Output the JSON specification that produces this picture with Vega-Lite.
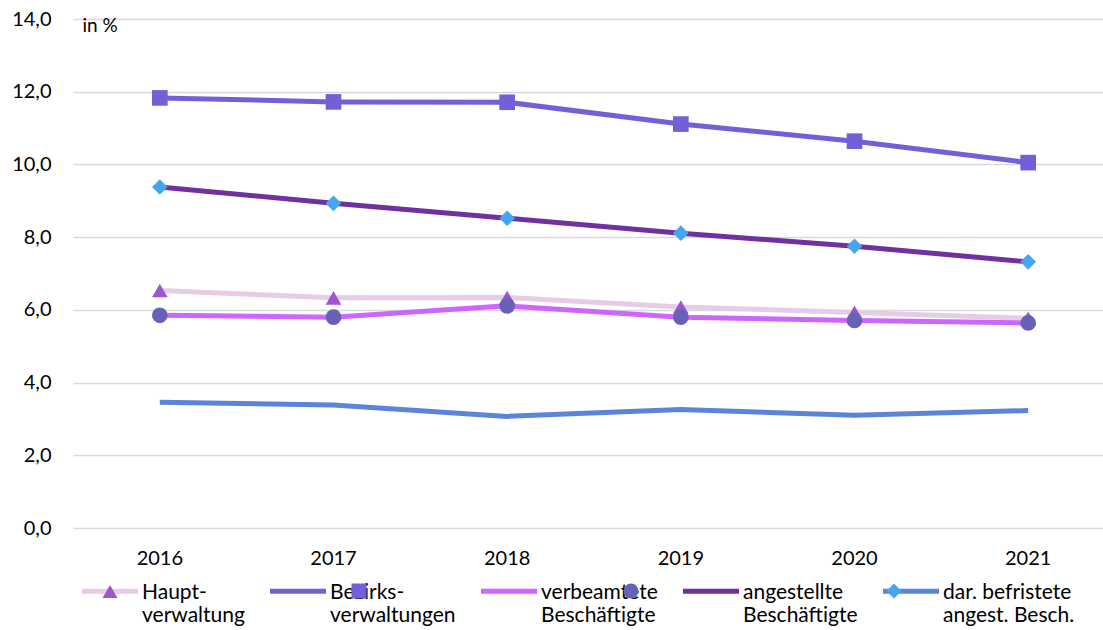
{
  "$schema": "https://vega.github.io/schema/vega-lite/v6.json",
  "width": 1042,
  "height": 509,
  "autosize": {"type": "none"},
  "padding": {"left": 73, "top": 19, "right": 0, "bottom": 102},
  "background": "white",
  "config": {
    "view": {"stroke": null},
    "font": "Lato",
    "axis": {"labelFont": "Lato", "labelColor": "#000000", "titleFont": "Lato", "titleColor": "#000000", "labelFontWeight": "normal"},
    "legend": {"labelFont": "Lato", "labelColor": "#000000"}
  },
  "data": {
    "values": [
      {"year": "2016", "series": "Haupt-\nverwaltung", "value": 6.53},
      {"year": "2017", "series": "Haupt-\nverwaltung", "value": 6.33},
      {"year": "2018", "series": "Haupt-\nverwaltung", "value": 6.34},
      {"year": "2019", "series": "Haupt-\nverwaltung", "value": 6.08},
      {"year": "2020", "series": "Haupt-\nverwaltung", "value": 5.93},
      {"year": "2021", "series": "Haupt-\nverwaltung", "value": 5.77},
      {"year": "2016", "series": "Bezirks-\nverwaltungen", "value": 11.83},
      {"year": "2017", "series": "Bezirks-\nverwaltungen", "value": 11.72},
      {"year": "2018", "series": "Bezirks-\nverwaltungen", "value": 11.71},
      {"year": "2019", "series": "Bezirks-\nverwaltungen", "value": 11.11},
      {"year": "2020", "series": "Bezirks-\nverwaltungen", "value": 10.64},
      {"year": "2021", "series": "Bezirks-\nverwaltungen", "value": 10.05},
      {"year": "2016", "series": "verbeamtete\nBeschäftigte", "value": 5.85},
      {"year": "2017", "series": "verbeamtete\nBeschäftigte", "value": 5.80},
      {"year": "2018", "series": "verbeamtete\nBeschäftigte", "value": 6.11},
      {"year": "2019", "series": "verbeamtete\nBeschäftigte", "value": 5.80},
      {"year": "2020", "series": "verbeamtete\nBeschäftigte", "value": 5.71},
      {"year": "2021", "series": "verbeamtete\nBeschäftigte", "value": 5.64},
      {"year": "2016", "series": "angestellte\nBeschäftigte", "value": 9.38},
      {"year": "2017", "series": "angestellte\nBeschäftigte", "value": 8.93},
      {"year": "2018", "series": "angestellte\nBeschäftigte", "value": 8.52},
      {"year": "2019", "series": "angestellte\nBeschäftigte", "value": 8.11},
      {"year": "2020", "series": "angestellte\nBeschäftigte", "value": 7.75},
      {"year": "2021", "series": "angestellte\nBeschäftigte", "value": 7.32},
      {"year": "2016", "series": "dar. befristete\nangest. Besch.", "value": 3.46},
      {"year": "2017", "series": "dar. befristete\nangest. Besch.", "value": 3.38},
      {"year": "2018", "series": "dar. befristete\nangest. Besch.", "value": 3.07},
      {"year": "2019", "series": "dar. befristete\nangest. Besch.", "value": 3.26},
      {"year": "2020", "series": "dar. befristete\nangest. Besch.", "value": 3.10},
      {"year": "2021", "series": "dar. befristete\nangest. Besch.", "value": 3.23}
    ]
  },
  "encoding": {
    "x": {
      "field": "year", "type": "ordinal",
      "scale": {"type": "band", "paddingInner": 0, "paddingOuter": 0},
      "axis": {"title": null, "labelAngle": 0, "labelFontSize": 20, "labelPadding": 20, "ticks": false, "domain": false, "grid": false}
    },
    "y": {
      "field": "value", "type": "quantitative",
      "scale": {"domain": [0, 14], "nice": false, "zero": true},
      "axis": {
        "values": [0, 2, 4, 6, 8, 10, 12, 14],
        "labelExpr": "replace(format(datum.value, '.1f'), '.', ',')",
        "labelFontSize": 20, "labelPadding": 22,
        "ticks": false, "domain": false,
        "grid": true, "gridColor": "#D9D9D9", "gridWidth": 1.5,
        "title": "in %", "titleAngle": 0, "titleAlign": "left", "titleBaseline": "middle",
        "titleX": 9, "titleY": 6, "titleFontSize": 19, "titleFontWeight": "normal"
      }
    }
  },
  "layer": [
    {
      "mark": {"type": "line", "strokeWidth": 5},
      "encoding": {
        "color": {
          "field": "series", "type": "nominal",
          "scale": {
            "domain": ["Haupt-\nverwaltung", "Bezirks-\nverwaltungen", "verbeamtete\nBeschäftigte", "angestellte\nBeschäftigte", "dar. befristete\nangest. Besch."],
            "range": ["#E6CCE6", "#7360D8", "#CC66FF", "#7030A0", "#5B84DB"]
          },
          "legend": {
            "title": null, "orient": "none", "direction": "horizontal", "columns": 5,
            "legendX": 6.5, "legendY": 541.5, "padding": 0,
            "symbolType": "stroke", "symbolSize": 3136, "symbolStrokeWidth": 5,
            "labelFontSize": 21, "labelOffset": 1.5, "columnPadding": 14, "labelLimit": 300,
            "labelExpr": "split(datum.label, '\\n')",
            "labelBaseline": "alphabetic",
            "encode": {"labels": {"update": {"dy": {"value": 8}, "lineHeight": {"value": 23}}}}
          }
        }
      }
    },
    {
      "mark": {"type": "point", "filled": true, "opacity": 1, "size": 245},
      "encoding": {
        "shape": {
          "field": "series", "type": "nominal",
          "scale": {
            "domain": ["Haupt-\nverwaltung", "Bezirks-\nverwaltungen", "verbeamtete\nBeschäftigte", "angestellte\nBeschäftigte", "dar. befristete\nangest. Besch.", "_"],
            "range": ["triangle-up", "square", "circle", "diamond", "circle", "circle"]
          },
          "legend": {
            "title": null, "orient": "none", "direction": "horizontal", "columns": 5,
            "legendX": 6.5, "legendY": 541.5, "padding": 0,
            "values": ["Haupt-\nverwaltung", "Bezirks-\nverwaltungen", "verbeamtete\nBeschäftigte", "angestellte\nBeschäftigte", "dar. befristete\nangest. Besch."],
            "symbolSize": 225, "symbolStrokeWidth": 46, "symbolOpacity": 1,
            "labelFontSize": 21, "labelOffset": 1.5, "columnPadding": 14, "labelLimit": 300,
            "labelExpr": "split(datum.label, '\\n')",
            "labelBaseline": "alphabetic", "labelOpacity": 0,
            "encode": {
              "symbols": {"update": {
                "size": {"value": 225},
                "stroke": {"value": null},
                "strokeOpacity": {"value": 0},
                "strokeWidth": {"value": 46},
                "opacity": {"value": 1}
              }},
              "labels": {"update": {"dy": {"value": 8}, "lineHeight": {"value": 23}}}
            }
          }
        },
        "fill": {
          "field": "series", "type": "nominal",
          "scale": {
            "domain": ["Haupt-\nverwaltung", "Bezirks-\nverwaltungen", "verbeamtete\nBeschäftigte", "angestellte\nBeschäftigte", "dar. befristete\nangest. Besch.", "_"],
            "range": ["#9E55D2", "#7360D8", "#6761B8", "#45A5EE", "transparent", "transparent"]
          },
          "legend": {
            "title": null, "orient": "none", "direction": "horizontal", "columns": 5,
            "legendX": 6.5, "legendY": 541.5, "padding": 0,
            "values": ["Haupt-\nverwaltung", "Bezirks-\nverwaltungen", "verbeamtete\nBeschäftigte", "angestellte\nBeschäftigte", "dar. befristete\nangest. Besch."],
            "symbolSize": 225, "symbolStrokeWidth": 46, "symbolOpacity": 1,
            "labelFontSize": 21, "labelOffset": 1.5, "columnPadding": 14, "labelLimit": 300,
            "labelExpr": "split(datum.label, '\\n')",
            "labelBaseline": "alphabetic", "labelOpacity": 0
          }
        }
      }
    }
  ]
}
